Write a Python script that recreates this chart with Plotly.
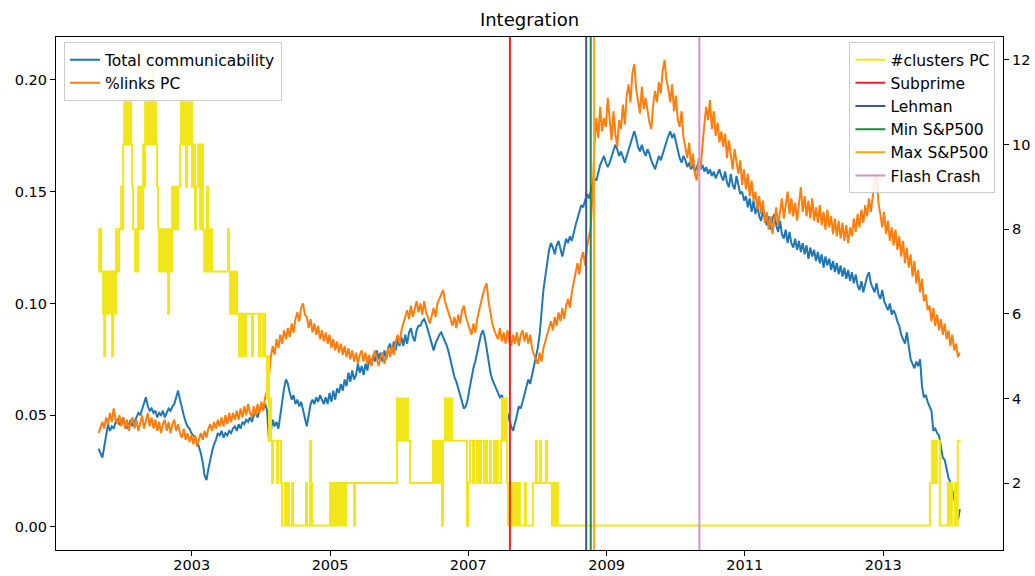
import pandas as pd
import plotly.graph_objects as go

# ---- data -------------------------------------------------------------
# both integration measures are sampled every ten days from this date
sample_start = "2001-08-27"
sample_step = "10D"

communicability = [
    0.035, 0.033, 0.031, 0.036, 0.041, 0.046, 0.043, 0.045, 0.044, 0.047,
    0.048, 0.046, 0.047, 0.049, 0.046, 0.044, 0.046, 0.048, 0.045, 0.047,
    0.049, 0.051, 0.050, 0.053, 0.055, 0.058, 0.054, 0.052, 0.053, 0.051,
    0.052, 0.049, 0.051, 0.050, 0.052, 0.049, 0.051, 0.053, 0.052, 0.054,
    0.055, 0.058, 0.061, 0.057, 0.053, 0.050, 0.047, 0.045, 0.044, 0.042,
    0.041, 0.040, 0.038, 0.036, 0.033, 0.029, 0.023, 0.021, 0.026, 0.031,
    0.034, 0.037, 0.039, 0.042, 0.041, 0.043, 0.040, 0.042, 0.041, 0.043,
    0.042, 0.044, 0.045, 0.043, 0.046, 0.044, 0.047, 0.046, 0.048, 0.047,
    0.049, 0.047, 0.050, 0.051, 0.049, 0.052, 0.054, 0.053, 0.055, 0.052,
    0.039, 0.043, 0.048, 0.045, 0.047, 0.044, 0.050, 0.057, 0.062, 0.066,
    0.064, 0.060, 0.057, 0.059, 0.055, 0.057, 0.054, 0.056, 0.052, 0.049,
    0.045, 0.050, 0.055, 0.057, 0.055, 0.058, 0.056, 0.059, 0.057, 0.055,
    0.058, 0.055, 0.060, 0.056, 0.061, 0.057, 0.062, 0.060, 0.064, 0.061,
    0.066, 0.063, 0.069, 0.065, 0.070, 0.066, 0.068, 0.073, 0.069, 0.072,
    0.068, 0.073, 0.070, 0.076, 0.072, 0.077, 0.074, 0.079, 0.075, 0.078,
    0.074, 0.079, 0.075, 0.080, 0.082, 0.078, 0.083, 0.079, 0.084, 0.081,
    0.085, 0.081, 0.086, 0.082, 0.087, 0.089, 0.085, 0.083, 0.088, 0.090,
    0.090, 0.092, 0.093, 0.091, 0.088, 0.085, 0.081, 0.079, 0.082, 0.084,
    0.086, 0.087, 0.085, 0.083, 0.081, 0.078, 0.074, 0.070, 0.067, 0.065,
    0.062, 0.058, 0.055, 0.053, 0.054, 0.057, 0.062, 0.067, 0.071, 0.074,
    0.078, 0.082, 0.086, 0.088, 0.085, 0.080, 0.074, 0.069, 0.066, 0.064,
    0.062, 0.060, 0.058, 0.059, 0.056, 0.054, 0.051, 0.048, 0.045, 0.043,
    0.046, 0.050, 0.054, 0.053, 0.056, 0.059, 0.062, 0.066, 0.064, 0.068,
    0.072, 0.076, 0.080, 0.086, 0.097, 0.106, 0.112, 0.118, 0.124, 0.127,
    0.125, 0.122, 0.126, 0.128, 0.124, 0.121, 0.125, 0.129, 0.127, 0.130,
    0.128, 0.132, 0.135, 0.138, 0.141, 0.144, 0.143, 0.146, 0.149, 0.147,
    0.150, 0.153, 0.156, 0.155, 0.159, 0.162, 0.164, 0.166, 0.163, 0.161,
    0.163, 0.166, 0.168, 0.171, 0.169, 0.166, 0.168, 0.165, 0.163, 0.166,
    0.169, 0.172, 0.175, 0.177, 0.174, 0.170, 0.168, 0.171, 0.168, 0.166,
    0.169, 0.167, 0.164, 0.162, 0.160, 0.163, 0.166, 0.164, 0.167, 0.170,
    0.173, 0.175, 0.177, 0.174, 0.176, 0.172, 0.168, 0.165, 0.163, 0.166,
    0.164, 0.161, 0.163, 0.160, 0.162, 0.159, 0.161, 0.163, 0.160, 0.162,
    0.159, 0.161, 0.158, 0.160, 0.157, 0.159, 0.156, 0.158, 0.160, 0.157,
    0.155, 0.159, 0.154, 0.152, 0.158, 0.153, 0.151, 0.157, 0.152, 0.149,
    0.150, 0.146, 0.148, 0.143, 0.147, 0.141, 0.146, 0.140, 0.144, 0.139,
    0.137, 0.142, 0.138, 0.135, 0.139, 0.133, 0.138, 0.140, 0.135, 0.132,
    0.137, 0.131, 0.129, 0.133, 0.127, 0.132, 0.127, 0.125, 0.129, 0.124,
    0.128, 0.123, 0.127, 0.122, 0.126, 0.120, 0.125, 0.121, 0.124, 0.119,
    0.123, 0.118, 0.122, 0.116, 0.121, 0.117, 0.120, 0.115, 0.119, 0.114,
    0.118, 0.113, 0.117, 0.112, 0.116, 0.111, 0.115, 0.110, 0.114, 0.109,
    0.113, 0.108, 0.106, 0.110, 0.105, 0.109, 0.112, 0.114, 0.109, 0.107,
    0.105, 0.109, 0.104, 0.102, 0.106, 0.101, 0.099, 0.097, 0.100, 0.095,
    0.097, 0.095, 0.092, 0.090, 0.086, 0.084, 0.082, 0.087, 0.080, 0.075,
    0.073, 0.071, 0.074, 0.072, 0.075, 0.063, 0.058, 0.059, 0.056, 0.054,
    0.052, 0.043, 0.044, 0.042, 0.041, 0.036, 0.031, 0.030, 0.026, 0.022,
    0.020, 0.016, 0.012, 0.009, 0.003, 0.008,
]

links_pc = [
    0.042, 0.045, 0.047, 0.044, 0.049, 0.046, 0.051, 0.047, 0.053, 0.048,
    0.046, 0.050, 0.045, 0.049, 0.044, 0.048, 0.043, 0.047, 0.049, 0.044,
    0.048, 0.043, 0.047, 0.050, 0.044, 0.048, 0.051, 0.045, 0.049, 0.044,
    0.048, 0.043, 0.047, 0.042, 0.046, 0.048, 0.043, 0.047, 0.042, 0.046,
    0.048, 0.043, 0.046, 0.042, 0.040, 0.044, 0.039, 0.042, 0.038, 0.041,
    0.037, 0.041, 0.036, 0.039, 0.042, 0.039, 0.043, 0.040, 0.044, 0.046,
    0.043, 0.047, 0.044, 0.048, 0.045, 0.049, 0.045, 0.050, 0.046, 0.051,
    0.047, 0.051, 0.048, 0.052, 0.048, 0.053, 0.049, 0.054, 0.050, 0.055,
    0.051, 0.049, 0.054, 0.050, 0.055, 0.051, 0.056, 0.052, 0.058, 0.061,
    0.067, 0.076, 0.081, 0.077, 0.084, 0.080, 0.086, 0.082, 0.088, 0.084,
    0.089, 0.085, 0.091, 0.087, 0.093, 0.096, 0.092, 0.098, 0.100, 0.095,
    0.094, 0.089, 0.093, 0.087, 0.091, 0.086, 0.090, 0.084, 0.088, 0.083,
    0.087, 0.082, 0.086, 0.080, 0.084, 0.079, 0.083, 0.078, 0.082, 0.077,
    0.081, 0.076, 0.080, 0.075, 0.079, 0.074, 0.078, 0.073, 0.077, 0.079,
    0.074, 0.078, 0.073, 0.077, 0.072, 0.076, 0.079, 0.075, 0.072, 0.076,
    0.078, 0.073, 0.077, 0.080, 0.076, 0.081, 0.077, 0.083, 0.086, 0.082,
    0.088, 0.091, 0.094, 0.097, 0.093, 0.099, 0.094, 0.098, 0.101, 0.096,
    0.100, 0.095, 0.101, 0.096, 0.094, 0.091, 0.095, 0.098, 0.094, 0.100,
    0.102, 0.104, 0.106, 0.101, 0.098, 0.095, 0.093, 0.090, 0.094, 0.089,
    0.095, 0.091, 0.097, 0.099, 0.094, 0.091, 0.088, 0.086, 0.091, 0.087,
    0.093, 0.097, 0.100, 0.104, 0.107, 0.109, 0.101, 0.095, 0.091, 0.088,
    0.086, 0.084, 0.089, 0.083, 0.087, 0.082, 0.088, 0.083, 0.081, 0.086,
    0.082, 0.087, 0.081, 0.086, 0.088, 0.083, 0.087, 0.082, 0.086, 0.080,
    0.077, 0.075, 0.073, 0.078, 0.074, 0.080, 0.083, 0.086, 0.089, 0.092,
    0.088, 0.094, 0.090, 0.096, 0.092, 0.098, 0.093, 0.099, 0.102, 0.098,
    0.105, 0.109, 0.114, 0.118, 0.113, 0.120, 0.123, 0.117, 0.125, 0.129,
    0.134, 0.150, 0.171, 0.183, 0.174, 0.188, 0.177, 0.183, 0.179, 0.192,
    0.181, 0.173, 0.186, 0.176, 0.170, 0.182, 0.178, 0.189, 0.180, 0.193,
    0.198, 0.190, 0.203, 0.207, 0.196, 0.190, 0.185, 0.197, 0.187, 0.192,
    0.186, 0.181, 0.178, 0.189, 0.195, 0.190, 0.199, 0.194, 0.204, 0.209,
    0.200, 0.196, 0.190, 0.198, 0.186, 0.193, 0.182, 0.179, 0.186, 0.174,
    0.170, 0.165, 0.172, 0.161, 0.167, 0.158, 0.155, 0.165, 0.160, 0.171,
    0.180, 0.188, 0.182, 0.191, 0.178, 0.186, 0.175, 0.181, 0.172, 0.177,
    0.170, 0.176, 0.165, 0.173, 0.167, 0.160, 0.169, 0.163, 0.158, 0.164,
    0.153, 0.160, 0.151, 0.158, 0.148, 0.155, 0.146, 0.150, 0.142, 0.148,
    0.140, 0.146, 0.136, 0.141, 0.133, 0.139, 0.131, 0.137, 0.143, 0.135,
    0.141, 0.147, 0.138, 0.144, 0.150, 0.140, 0.147, 0.139, 0.145, 0.137,
    0.146, 0.152, 0.141, 0.148, 0.139, 0.146, 0.138, 0.147, 0.137, 0.143,
    0.136, 0.144, 0.135, 0.141, 0.133, 0.142, 0.134, 0.139, 0.131, 0.138,
    0.130, 0.137, 0.129, 0.136, 0.128, 0.135, 0.127, 0.134, 0.130, 0.138,
    0.132, 0.140, 0.134, 0.142, 0.136, 0.144, 0.139, 0.147, 0.141, 0.149,
    0.155, 0.158, 0.145, 0.140, 0.134, 0.141, 0.131, 0.137, 0.128, 0.134,
    0.126, 0.133, 0.124, 0.130, 0.121, 0.128, 0.118, 0.125, 0.116, 0.122,
    0.112, 0.119, 0.109, 0.115, 0.105, 0.111, 0.101, 0.104, 0.097, 0.099,
    0.092, 0.098, 0.090, 0.095, 0.088, 0.093, 0.086, 0.091, 0.084, 0.088,
    0.081, 0.086, 0.079, 0.082, 0.076, 0.078,
]

# number of clusters in the PC: change points (decimal year) and new count
cluster_years = [
    2001.646, 2001.660, 2001.675, 2001.689, 2001.718, 2001.733, 2001.747, 2001.762,
    2001.791, 2001.805, 2001.820, 2001.834, 2001.848, 2001.863, 2001.892, 2001.906,
    2001.935, 2001.950, 2001.979, 2001.993, 2002.007, 2002.022, 2002.036, 2002.051,
    2002.080, 2002.094, 2002.123, 2002.138, 2002.152, 2002.181, 2002.195, 2002.210,
    2002.224, 2002.239, 2002.268, 2002.282, 2002.297, 2002.311, 2002.326, 2002.340,
    2002.354, 2002.383, 2002.398, 2002.412, 2002.427, 2002.441, 2002.456, 2002.470,
    2002.485, 2002.499, 2002.514, 2002.528, 2002.543, 2002.571, 2002.600, 2002.615,
    2002.644, 2002.658, 2002.673, 2002.687, 2002.702, 2002.716, 2002.730, 2002.759,
    2002.788, 2002.803, 2002.832, 2002.846, 2002.875, 2002.889, 2002.918, 2002.933,
    2002.962, 2002.976, 2003.005, 2003.020, 2003.049, 2003.063, 2003.092, 2003.106,
    2003.121, 2003.135, 2003.164, 2003.179, 2003.193, 2003.208, 2003.222, 2003.237,
    2003.251, 2003.280, 2003.294, 2003.526, 2003.540, 2003.555, 2003.569, 2003.598,
    2003.627, 2003.656, 2003.685, 2003.699, 2003.714, 2003.743, 2003.757, 2003.786,
    2003.873, 2003.887, 2003.974, 2003.988, 2004.032, 2004.046, 2004.061, 2004.090,
    2004.104, 2004.119, 2004.133, 2004.147, 2004.162, 2004.176, 2004.234, 2004.248,
    2004.292, 2004.306, 2004.350, 2004.364, 2004.393, 2004.408, 2004.451, 2004.466,
    2004.653, 2004.668, 2004.711, 2004.726, 2004.740,
    2005.000, 2005.015, 2005.029, 2005.044, 2005.058, 2005.073, 2005.087, 2005.102,
    2005.116, 2005.131, 2005.145, 2005.160, 2005.174, 2005.188, 2005.203, 2005.217,
    2005.232, 2005.348, 2005.362,
    2005.969, 2005.984, 2005.998, 2006.013, 2006.027, 2006.042, 2006.056, 2006.070,
    2006.085, 2006.099, 2006.114, 2006.128, 2006.157,
    2006.490, 2006.504, 2006.533, 2006.562, 2006.591, 2006.620, 2006.634, 2006.663,
    2006.677, 2006.692, 2006.706, 2006.721, 2006.735, 2006.750, 2006.764,
    2006.981, 2006.996, 2007.025, 2007.068, 2007.083, 2007.126, 2007.155, 2007.169,
    2007.184, 2007.227, 2007.256, 2007.271, 2007.314, 2007.328, 2007.371, 2007.386,
    2007.415, 2007.429, 2007.473, 2007.487, 2007.502, 2007.516, 2007.531, 2007.545,
    2007.560, 2007.574, 2007.588, 2007.603, 2007.617, 2007.632, 2007.646, 2007.661,
    2007.675, 2007.690, 2007.704, 2007.719, 2007.733, 2007.747, 2007.820, 2007.834,
    2007.935, 2007.979, 2007.993, 2008.037, 2008.051, 2008.123, 2008.138, 2008.210,
    2008.224, 2008.253, 2008.268, 2008.297,
    2013.676, 2013.705, 2013.719, 2013.734, 2013.763, 2013.777, 2013.820, 2013.936,
    2013.950, 2013.979, 2013.994, 2014.037, 2014.066, 2014.080, 2014.124,
]
cluster_counts = [
    8, 7, 8, 7, 6, 5, 7, 6,
    7, 6, 7, 6, 5, 7, 6, 8,
    7, 8, 9, 8, 10, 11, 10, 11,
    10, 11, 10, 9, 8, 7, 8, 7,
    9, 8, 9, 8, 10, 9, 11, 10,
    11, 10, 11, 10, 12, 11, 10, 11,
    10, 9, 8, 7, 8, 7, 8, 7,
    8, 6, 7, 8, 7, 9, 8, 9,
    8, 9, 10, 11, 10, 11, 9, 11,
    10, 11, 9, 10, 8, 9, 10, 9,
    8, 10, 8, 7, 8, 7, 9, 8,
    7, 8, 7, 8, 7, 6, 7, 6,
    7, 6, 5, 6, 5, 6, 5, 6,
    5, 6, 5, 6, 5, 6, 5, 4,
    5, 3, 4, 3, 2, 3, 2, 3,
    2, 1, 2, 1, 2, 1, 2, 1,
    2, 1, 3, 2, 1,
    2, 1, 2, 1, 2, 1, 2, 1,
    2, 1, 2, 1, 2, 1, 2, 1,
    2, 1, 2,
    4, 3, 4, 3, 4, 3, 4, 3,
    4, 3, 4, 3, 2,
    3, 2, 3, 2, 3, 1, 3, 4,
    3, 4, 3, 4, 3, 4, 3,
    1, 2, 3, 2, 3, 2, 3, 2,
    3, 2, 3, 2, 3, 2, 3, 2,
    3, 2, 3, 4, 3, 4, 3, 4,
    2, 1, 2, 1, 2, 1, 2, 1,
    2, 1, 2, 1, 2, 1, 2, 1,
    2, 3, 2, 3, 2, 3, 2, 1,
    2, 1, 2, 1,
    2, 3, 2, 3, 2, 3, 1, 2,
    1, 2, 1, 2, 1, 3, 3,
]

event_names = ["Subprime", "Lehman", "Min S&P500", "Max S&P500", "Flash Crash"]
event_dates = ["2007-08-09", "2008-09-15", "2008-10-09", "2008-10-27", "2010-05-06"]
event_colors = ["#ee2027", "#3b54a3", "#1a8a3e", "#faa21b", "#d691c6"]

# ---- helpers ----------------------------------------------------------
def decimal_year_to_ts(y):
    year = int(y)
    start = pd.Timestamp(year=year, month=1, day=1)
    end = pd.Timestamp(year=year + 1, month=1, day=1)
    return start + (end - start) * (y - year)


sample_dates = pd.date_range(sample_start, periods=len(communicability), freq=sample_step)
cluster_dates = [decimal_year_to_ts(y) for y in cluster_years]

FONT = "DejaVu Sans"

fig = go.Figure()

fig.add_trace(go.Scatter(
    x=sample_dates, y=communicability, name="Total communicability",
    mode="lines", line=dict(color="#1f77b4", width=2), yaxis="y", legend="legend",
))
fig.add_trace(go.Scatter(
    x=sample_dates[:len(links_pc)], y=links_pc, name="%links PC",
    mode="lines", line=dict(color="#ff7f0e", width=2), yaxis="y", legend="legend",
))
fig.add_trace(go.Scatter(
    x=cluster_dates, y=cluster_counts, name="#clusters PC",
    mode="lines", line=dict(color="#f2e61a", width=2, shape="hv"),
    yaxis="y2", legend="legend2",
))
for name, d, c in zip(event_names, event_dates, event_colors):
    fig.add_trace(go.Scatter(
        x=[d, d], y=[0, 1], name=name, mode="lines",
        line=dict(color=c, width=2), yaxis="y3", legend="legend2",
    ))

axis_common = dict(
    showgrid=False, zeroline=False, showline=True, linecolor="black", linewidth=1.2,
    ticks="outside", ticklen=5, tickwidth=1, tickcolor="black", automargin=False,
    tickfont=dict(family=FONT, size=14.5, color="black"),
)

legend_common = dict(
    bgcolor="rgba(255,255,255,0.85)", bordercolor="#cccccc", borderwidth=1,
    font=dict(family=FONT, size=15.5, color="black"),
    yanchor="top", y=0.990, tracegroupgap=0,
)

fig.update_layout(
    width=1035, height=576,
    margin=dict(l=56, r=32, t=37, b=26, autoexpand=False),
    paper_bgcolor="white", plot_bgcolor="white",
    title=dict(text="Integration", x=0.5, xref="paper", y=0.965, yanchor="middle",
               font=dict(family=FONT, size=18, color="black")),
    xaxis=dict(
        **axis_common, mirror=True, type="date", ticklabelstandoff=-4,
        range=["2001-01-14", "2014-09-26"],
        tickvals=["2003-01-01", "2005-01-01", "2007-01-01", "2009-01-01",
                  "2011-01-01", "2013-01-01"],
        ticktext=["2003", "2005", "2007", "2009", "2011", "2013"],
    ),
    yaxis=dict(
        **axis_common, range=[-0.0103, 0.2192],
        tickvals=[0.0, 0.05, 0.10, 0.15, 0.20], tickformat=".2f",
    ),
    yaxis2=dict(
        **axis_common, overlaying="y", side="right", range=[0.42, 12.54],
        tickvals=[2, 4, 6, 8, 10, 12],
    ),
    yaxis3=dict(overlaying="y", range=[0, 1], visible=False, fixedrange=True),
    legend=dict(**legend_common, x=0.0084, xanchor="left"),
    legend2=dict(**legend_common, x=0.992, xanchor="right"),
    showlegend=True,
)

fig.write_html("out.html")
